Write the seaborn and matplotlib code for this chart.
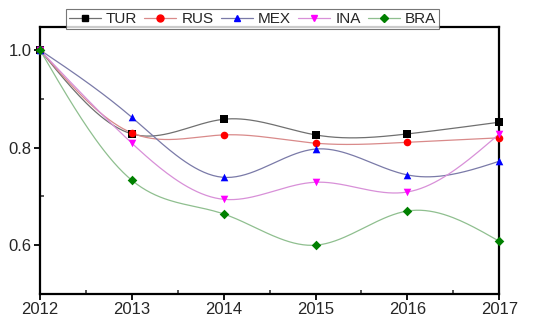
import numpy as np
import pandas as pd
import seaborn as sns
import matplotlib.pyplot as plt
from matplotlib.lines import Line2D
from matplotlib.ticker import MultipleLocator

years = [2012, 2013, 2014, 2015, 2016, 2017]
tur = [1.0, 0.828, 0.858, 0.826, 0.828, 0.852]
rus = [1.0, 0.830, 0.826, 0.809, 0.811, 0.820]
mex = [1.0, 0.862, 0.739, 0.797, 0.744, 0.772]
ina = [1.0, 0.809, 0.694, 0.729, 0.709, 0.828]
bra = [1.0, 0.733, 0.664, 0.600, 0.670, 0.608]

names = ["TUR", "RUS", "MEX", "INA", "BRA"]
series = [tur, rus, mex, ina, bra]
markers = ["s", "o", "^", "v", "D"]
mcolors = ["black", "red", "blue", "magenta", "green"]
lcolors = ["#707070", "#d98a8a", "#7a7aa8", "#d890d8", "#8fbf8f"]


def natural_spline(x, y, n=200):
    # plain natural cubic spline, only used to draw the smooth connecting curve
    x = np.asarray(x, float)
    y = np.asarray(y, float)
    k = len(x)
    h = np.diff(x)
    A = np.zeros((k, k))
    b = np.zeros(k)
    A[0, 0] = A[-1, -1] = 1
    for i in range(1, k - 1):
        A[i, i - 1] = h[i - 1]
        A[i, i] = 2 * (h[i - 1] + h[i])
        A[i, i + 1] = h[i]
        b[i] = 3 * ((y[i + 1] - y[i]) / h[i] - (y[i] - y[i - 1]) / h[i - 1])
    c = np.linalg.solve(A, b)
    xs = np.linspace(x[0], x[-1], n)
    idx = np.clip(np.searchsorted(x, xs) - 1, 0, k - 2)
    dx = xs - x[idx]
    bb = (y[idx + 1] - y[idx]) / h[idx] - h[idx] * (2 * c[idx] + c[idx + 1]) / 3
    d = (c[idx + 1] - c[idx]) / (3 * h[idx])
    ys = y[idx] + bb * dx + c[idx] * dx ** 2 + d * dx ** 3
    return xs, ys


sns.set_style("ticks")
plt.rcParams['font.family'] = ['Liberation Sans', 'DejaVu Sans']

fig = plt.figure(figsize=(5.5, 3.22), dpi=100)
ax = fig.add_axes([0.0727, 0.087, 0.835, 0.829])

for name, vals, mk, mc, lc in zip(names, series, markers, mcolors, lcolors):
    xs, ys = natural_spline(years, vals)
    curve = pd.DataFrame({"year": xs, "value": ys})
    sns.lineplot(data=curve, x="year", y="value", ax=ax, color=lc, linewidth=0.9)
    pts = pd.DataFrame({"year": years, "value": vals})
    sns.scatterplot(data=pts, x="year", y="value", ax=ax, marker=mk, color=mc,
                    s=30 if mk != "D" else 24, edgecolor=mc, linewidth=0, zorder=5,
                    clip_on=False)

ax.set_xlim(2012, 2017)
ax.set_ylim(0.5, 1.047)
ax.set_xticks(years)
ax.set_xticklabels([str(y) for y in years])
ax.xaxis.set_minor_locator(MultipleLocator(0.5))
ax.set_yticks([0.6, 0.8, 1.0])
ax.set_yticklabels(["0.6", "0.8", "1.0"])
ax.yaxis.set_minor_locator(MultipleLocator(0.1))
ax.set_xlabel("")
ax.set_ylabel("")
ax.tick_params(axis="both", which="major", labelsize=12, width=1.3, length=4,
               direction="out", color="black", pad=2)
ax.tick_params(axis="both", which="minor", width=1.1, length=3, direction="in")
for s in ax.spines.values():
    s.set_visible(True)
    s.set_linewidth(1.6)
    s.set_color("black")

handles = [Line2D([0], [0], color=lc, lw=0.9, marker=mk, markersize=5 if mk != "D" else 4.5,
                  markerfacecolor=mc, markeredgecolor=mc, label=n)
           for n, mk, mc, lc in zip(names, markers, mcolors, lcolors)]
leg = fig.legend(handles=handles, loc="upper center", bbox_to_anchor=(0.459, 0.995), ncol=5,
                 frameon=True, fancybox=False, fontsize=11, handlelength=2.1,
                 handletextpad=0.35, columnspacing=0.45, borderpad=0.2,
                 edgecolor="#555555")
leg.get_frame().set_linewidth(0.8)

fig.savefig("out.png", dpi=100)
